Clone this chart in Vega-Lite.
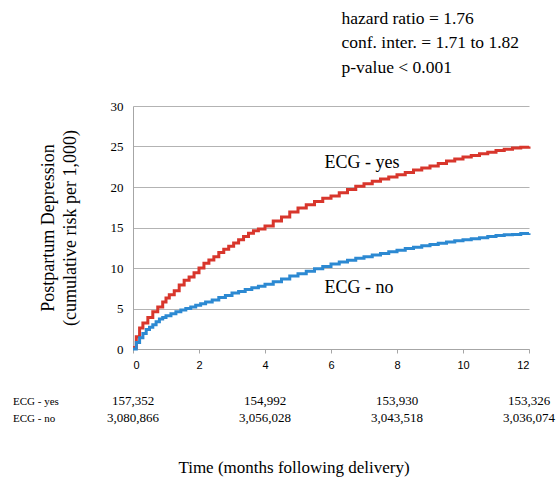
{
  "$schema": "https://vega.github.io/schema/vega-lite/v6.json",
  "padding": {"left": 12, "top": 9, "right": 5, "bottom": 5},
  "background": "white",
  "bounds": "flush",
  "spacing": 43.5,
  "config": {"view": {"stroke": null}, "font": "Liberation Serif"},
  "datasets": {
    "curves": [
      {"group": "ECG - yes", "month": 0, "risk": 0.2},
      {"group": "ECG - yes", "month": 0.1, "risk": 1.5},
      {"group": "ECG - yes", "month": 0.2, "risk": 2.6},
      {"group": "ECG - yes", "month": 0.3, "risk": 3.2},
      {"group": "ECG - yes", "month": 0.45, "risk": 3.9},
      {"group": "ECG - yes", "month": 0.6, "risk": 4.6},
      {"group": "ECG - yes", "month": 0.75, "risk": 5.2},
      {"group": "ECG - yes", "month": 0.9, "risk": 5.8},
      {"group": "ECG - yes", "month": 1.0, "risk": 6.3},
      {"group": "ECG - yes", "month": 1.1, "risk": 6.7},
      {"group": "ECG - yes", "month": 1.25, "risk": 7.2},
      {"group": "ECG - yes", "month": 1.4, "risk": 7.9},
      {"group": "ECG - yes", "month": 1.55, "risk": 8.5},
      {"group": "ECG - yes", "month": 1.7, "risk": 8.9},
      {"group": "ECG - yes", "month": 1.85, "risk": 9.4},
      {"group": "ECG - yes", "month": 2.0, "risk": 10.0},
      {"group": "ECG - yes", "month": 2.15, "risk": 10.6},
      {"group": "ECG - yes", "month": 2.3, "risk": 11.0},
      {"group": "ECG - yes", "month": 2.45, "risk": 11.4},
      {"group": "ECG - yes", "month": 2.6, "risk": 11.9},
      {"group": "ECG - yes", "month": 2.75, "risk": 12.3},
      {"group": "ECG - yes", "month": 2.9, "risk": 12.7},
      {"group": "ECG - yes", "month": 3.05, "risk": 13.1},
      {"group": "ECG - yes", "month": 3.2, "risk": 13.5},
      {"group": "ECG - yes", "month": 3.35, "risk": 13.9},
      {"group": "ECG - yes", "month": 3.5, "risk": 14.3},
      {"group": "ECG - yes", "month": 3.65, "risk": 14.6},
      {"group": "ECG - yes", "month": 3.8, "risk": 14.8},
      {"group": "ECG - yes", "month": 4.0, "risk": 15.2},
      {"group": "ECG - yes", "month": 4.25, "risk": 15.8},
      {"group": "ECG - yes", "month": 4.5, "risk": 16.3},
      {"group": "ECG - yes", "month": 4.75, "risk": 16.9},
      {"group": "ECG - yes", "month": 5.0, "risk": 17.4},
      {"group": "ECG - yes", "month": 5.25, "risk": 17.8},
      {"group": "ECG - yes", "month": 5.5, "risk": 18.2},
      {"group": "ECG - yes", "month": 5.75, "risk": 18.6},
      {"group": "ECG - yes", "month": 6.0, "risk": 18.9},
      {"group": "ECG - yes", "month": 6.25, "risk": 19.3},
      {"group": "ECG - yes", "month": 6.5, "risk": 19.7},
      {"group": "ECG - yes", "month": 6.75, "risk": 20.1},
      {"group": "ECG - yes", "month": 7.0, "risk": 20.4},
      {"group": "ECG - yes", "month": 7.25, "risk": 20.7},
      {"group": "ECG - yes", "month": 7.5, "risk": 21.0},
      {"group": "ECG - yes", "month": 7.75, "risk": 21.25},
      {"group": "ECG - yes", "month": 8.0, "risk": 21.5},
      {"group": "ECG - yes", "month": 8.25, "risk": 21.8},
      {"group": "ECG - yes", "month": 8.5, "risk": 22.1},
      {"group": "ECG - yes", "month": 8.75, "risk": 22.35},
      {"group": "ECG - yes", "month": 9.0, "risk": 22.6},
      {"group": "ECG - yes", "month": 9.25, "risk": 22.9},
      {"group": "ECG - yes", "month": 9.5, "risk": 23.2},
      {"group": "ECG - yes", "month": 9.75, "risk": 23.45},
      {"group": "ECG - yes", "month": 10.0, "risk": 23.7},
      {"group": "ECG - yes", "month": 10.25, "risk": 23.9},
      {"group": "ECG - yes", "month": 10.5, "risk": 24.1},
      {"group": "ECG - yes", "month": 10.75, "risk": 24.3},
      {"group": "ECG - yes", "month": 11.0, "risk": 24.5},
      {"group": "ECG - yes", "month": 11.25, "risk": 24.65},
      {"group": "ECG - yes", "month": 11.5, "risk": 24.8},
      {"group": "ECG - yes", "month": 11.75, "risk": 24.9},
      {"group": "ECG - yes", "month": 12.0, "risk": 25.0},
      {"group": "ECG - no", "month": 0, "risk": 0},
      {"group": "ECG - no", "month": 0.1, "risk": 0.8},
      {"group": "ECG - no", "month": 0.2, "risk": 1.4},
      {"group": "ECG - no", "month": 0.3, "risk": 1.9},
      {"group": "ECG - no", "month": 0.4, "risk": 2.4},
      {"group": "ECG - no", "month": 0.5, "risk": 2.7},
      {"group": "ECG - no", "month": 0.6, "risk": 3.0},
      {"group": "ECG - no", "month": 0.7, "risk": 3.35},
      {"group": "ECG - no", "month": 0.8, "risk": 3.7},
      {"group": "ECG - no", "month": 0.9, "risk": 3.9},
      {"group": "ECG - no", "month": 1.0, "risk": 4.1},
      {"group": "ECG - no", "month": 1.15, "risk": 4.35},
      {"group": "ECG - no", "month": 1.3, "risk": 4.6},
      {"group": "ECG - no", "month": 1.45, "risk": 4.8},
      {"group": "ECG - no", "month": 1.6, "risk": 5.0},
      {"group": "ECG - no", "month": 1.75, "risk": 5.2},
      {"group": "ECG - no", "month": 1.9, "risk": 5.4},
      {"group": "ECG - no", "month": 2.05, "risk": 5.6},
      {"group": "ECG - no", "month": 2.2, "risk": 5.8},
      {"group": "ECG - no", "month": 2.4, "risk": 6.05},
      {"group": "ECG - no", "month": 2.6, "risk": 6.35},
      {"group": "ECG - no", "month": 2.8, "risk": 6.6},
      {"group": "ECG - no", "month": 3.0, "risk": 6.9},
      {"group": "ECG - no", "month": 3.2, "risk": 7.1},
      {"group": "ECG - no", "month": 3.4, "risk": 7.35},
      {"group": "ECG - no", "month": 3.6, "risk": 7.55},
      {"group": "ECG - no", "month": 3.8, "risk": 7.75},
      {"group": "ECG - no", "month": 4.0, "risk": 8.0},
      {"group": "ECG - no", "month": 4.25, "risk": 8.3},
      {"group": "ECG - no", "month": 4.5, "risk": 8.65},
      {"group": "ECG - no", "month": 4.75, "risk": 9.0},
      {"group": "ECG - no", "month": 5.0, "risk": 9.3},
      {"group": "ECG - no", "month": 5.25, "risk": 9.6},
      {"group": "ECG - no", "month": 5.5, "risk": 9.9},
      {"group": "ECG - no", "month": 5.75, "risk": 10.2},
      {"group": "ECG - no", "month": 6.0, "risk": 10.5},
      {"group": "ECG - no", "month": 6.25, "risk": 10.75},
      {"group": "ECG - no", "month": 6.5, "risk": 10.95},
      {"group": "ECG - no", "month": 6.75, "risk": 11.2},
      {"group": "ECG - no", "month": 7.0, "risk": 11.4},
      {"group": "ECG - no", "month": 7.25, "risk": 11.6},
      {"group": "ECG - no", "month": 7.5, "risk": 11.8},
      {"group": "ECG - no", "month": 7.75, "risk": 12.0},
      {"group": "ECG - no", "month": 8.0, "risk": 12.2},
      {"group": "ECG - no", "month": 8.25, "risk": 12.4},
      {"group": "ECG - no", "month": 8.5, "risk": 12.55},
      {"group": "ECG - no", "month": 8.75, "risk": 12.75},
      {"group": "ECG - no", "month": 9.0, "risk": 12.9},
      {"group": "ECG - no", "month": 9.25, "risk": 13.05},
      {"group": "ECG - no", "month": 9.5, "risk": 13.2},
      {"group": "ECG - no", "month": 9.75, "risk": 13.35},
      {"group": "ECG - no", "month": 10.0, "risk": 13.5},
      {"group": "ECG - no", "month": 10.25, "risk": 13.6},
      {"group": "ECG - no", "month": 10.5, "risk": 13.75},
      {"group": "ECG - no", "month": 10.75, "risk": 13.9},
      {"group": "ECG - no", "month": 11.0, "risk": 14.0},
      {"group": "ECG - no", "month": 11.25, "risk": 14.1},
      {"group": "ECG - no", "month": 11.5, "risk": 14.15},
      {"group": "ECG - no", "month": 11.75, "risk": 14.25},
      {"group": "ECG - no", "month": 12.0, "risk": 14.3}
    ],
    "labels": [
      {"group": "ECG - yes", "month": 5.8, "risk": 23.0},
      {"group": "ECG - no", "month": 5.8, "risk": 7.5}
    ],
    "atrisk": [
      {"group": "ECG - yes", "month": 0, "n": 157352},
      {"group": "ECG - yes", "month": 4, "n": 154992},
      {"group": "ECG - yes", "month": 8, "n": 153930},
      {"group": "ECG - yes", "month": 12, "n": 153326},
      {"group": "ECG - no", "month": 0, "n": 3080866},
      {"group": "ECG - no", "month": 4, "n": 3056028},
      {"group": "ECG - no", "month": 8, "n": 3043518},
      {"group": "ECG - no", "month": 12, "n": 3036074}
    ]
  },
  "vconcat": [
    {
      "width": 396,
      "height": 243,
      "title": {
        "text": ["hazard ratio = 1.76", "conf. inter. = 1.71 to 1.82", "p-value < 0.001"],
        "anchor": "start",
        "frame": "group",
        "dx": 208.5,
        "font": "Liberation Serif",
        "fontSize": 17.5,
        "fontWeight": "normal",
        "lineHeight": 24.5,
        "color": "black",
        "offset": 24
      },
      "layer": [
        {
          "data": {"name": "curves"},
          "mark": {"type": "line", "interpolate": "step-after", "strokeWidth": 3},
          "encoding": {
            "x": {
              "field": "month", "type": "quantitative",
              "scale": {"domain": [0, 12], "nice": false},
              "axis": {
                "values": [0, 2, 4, 6, 8, 10, 12], "grid": false, "title": null,
                "tickSize": 4, "tickColor": "#a6a6a6", "domainColor": "#a6a6a6",
                "labelFont": "Liberation Sans", "labelFontSize": 11, "labelColor": "black",
                "labelPadding": 6
              }
            },
            "y": {
              "field": "risk", "type": "quantitative",
              "scale": {"domain": [0, 30], "nice": false},
              "axis": {
                "values": [0, 5, 10, 15, 20, 25, 30], "grid": true, "gridColor": "#b3b3b3",
                "ticks": false, "domainColor": "#a6a6a6", "labelPadding": 10,
                "labelFont": "Liberation Serif", "labelFontSize": 13, "labelColor": "black",
                "title": ["Postpartum Depression", "(cumulative risk per 1,000)"],
                "titleFont": "Liberation Serif", "titleFontSize": 18, "titleFontWeight": "normal",
                "titleColor": "black", "titleLineHeight": 22, "titlePadding": 31
              }
            },
            "color": {
              "field": "group", "type": "nominal",
              "scale": {"domain": ["ECG - yes", "ECG - no"], "range": ["#d8362c", "#2c89d2"]},
              "legend": null
            }
          }
        },
        {
          "data": {"name": "labels"},
          "mark": {"type": "text", "align": "left", "baseline": "middle", "font": "Liberation Serif", "fontSize": 18, "color": "black"},
          "encoding": {
            "x": {"field": "month", "type": "quantitative"},
            "y": {"field": "risk", "type": "quantitative"},
            "text": {"field": "group"}
          }
        }
      ]
    },
    {
      "width": 396,
      "height": 34,
      "data": {"name": "atrisk"},
      "mark": {"type": "text", "align": "center", "baseline": "middle", "font": "Liberation Serif", "fontSize": 13, "color": "black"},
      "encoding": {
        "x": {
          "field": "month", "type": "quantitative",
          "scale": {"domain": [0, 12], "nice": false},
          "axis": {
            "title": "Time (months following delivery)", "titleX": 160.5, "titleAlign": "center",
            "titleFont": "Liberation Serif", "titleFontSize": 17, "titleFontWeight": "normal",
            "titleColor": "black", "titlePadding": 33,
            "labels": false, "ticks": false, "domain": false, "grid": false
          }
        },
        "y": {
          "field": "group", "type": "nominal",
          "sort": ["ECG - yes", "ECG - no"],
          "scale": {"type": "point", "padding": 0.5},
          "axis": {
            "title": null, "domain": false, "ticks": false, "grid": false,
            "labelAlign": "left", "labelPadding": 120.5,
            "labelFont": "Liberation Serif", "labelFontSize": 11, "labelColor": "black"
          }
        },
        "text": {"field": "n", "type": "quantitative", "format": ","}
      }
    }
  ]
}
